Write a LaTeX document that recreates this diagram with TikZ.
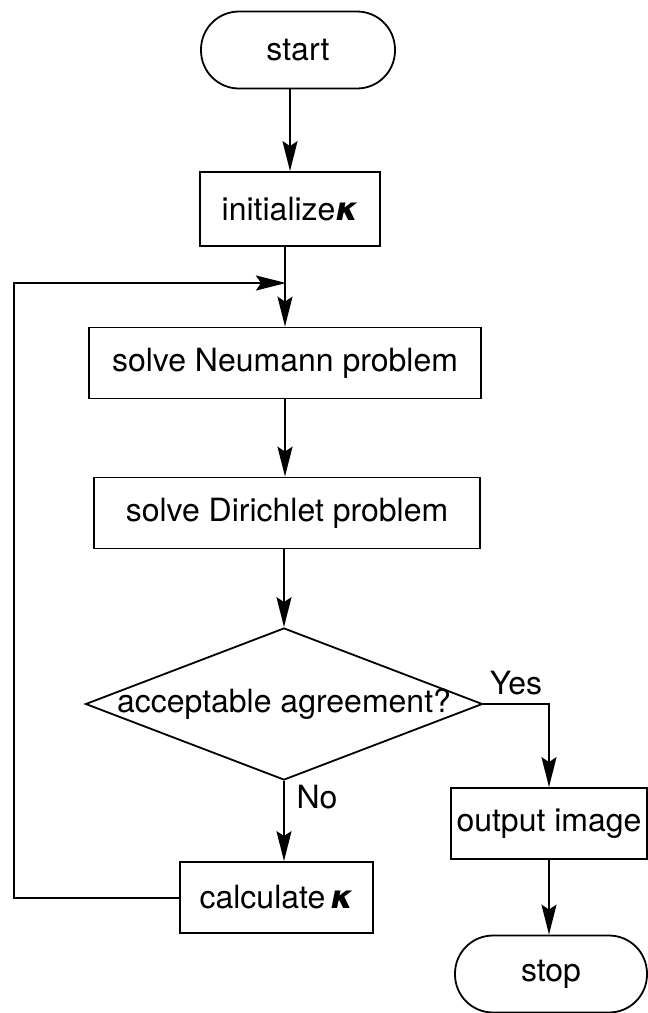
\documentclass[tikz,border=0pt]{standalone}
\usepackage{fontspec}
\setmainfont{TeX Gyre Heros}
\newfontfamily\greekfont{DejaVu Sans}
\usetikzlibrary{shapes}
\usetikzlibrary{arrows.meta}
\newcommand{\kap}{{\greekfont\bfseries\itshape κ}}
\tikzset{
	flownode/.style = {
		align=center,
		inner sep=0pt,
		text centered,
		font=\fontsize{32}{38}\selectfont,
		line width=1.8pt,
		draw=black
	},
	node_term/.style = {
		flownode,
		rectangle,
		rounded corners=38pt,
		minimum height=77pt
	},
	node_box/.style = {
		flownode,
		rectangle,
		minimum height=71pt
	},
	node_dec/.style = {
		flownode,
		diamond,
		minimum width=397pt,
		minimum height=152pt
	},
	node_lab/.style = {
		align=center,
		inner sep=0pt,
		font=\fontsize{32}{38}\selectfont
	},
}

\begin{document}
\begin{tikzpicture}[->,>={Stealth[length=30pt,width=15pt,inset=5pt]}, x=1pt, y=-1pt, line width=2pt]
\useasboundingbox (0,0) rectangle (648,1013);
\node [node_term, minimum width=194pt] (start) at (298,50) {start};
\node [node_box, minimum width=180pt, minimum height=74pt] (init) at (290,209) {initialize\kap};
\node [node_box, minimum width=392pt] (neumann) at (285,363) {solve Neumann problem};
\node [node_box, minimum width=386pt] (dirichlet) at (287,513) {solve Dirichlet problem};
\node [node_dec] (agree) at (284,704) {\makebox[0pt]{acceptable agreement?}};
\node [node_box, minimum width=193pt] (calc) at (276.5,897.5) {calculate\,\kap};
\node [node_box, minimum width=196pt] (out) at (549,823.5) {output image};
\node [node_term, minimum width=192pt] (stop) at (551,974) {stop};
\node [node_lab] (yes) at (516,683) {Yes};
\node [node_lab] (no) at (317,797) {No};
\coordinate (corner) at (14,283);
\coordinate (join) at (286,283);
% main line
\draw (init.north |- start.south) -- (init.north);
\draw (neumann.north |- init.south) -- (neumann.north);
\draw (neumann.south) -- (neumann.south |- dirichlet.north);
\draw (agree.north |- dirichlet.south) -- (agree.north);
\draw (agree.south) -- (agree.south |- calc.north);
\draw (agree.east) -| (out.north);
\draw (out.south) -- (out.south |- stop.north);
% back to the top
\draw (calc.west) -| (corner) -- (join);
\end{tikzpicture}
\end{document}
